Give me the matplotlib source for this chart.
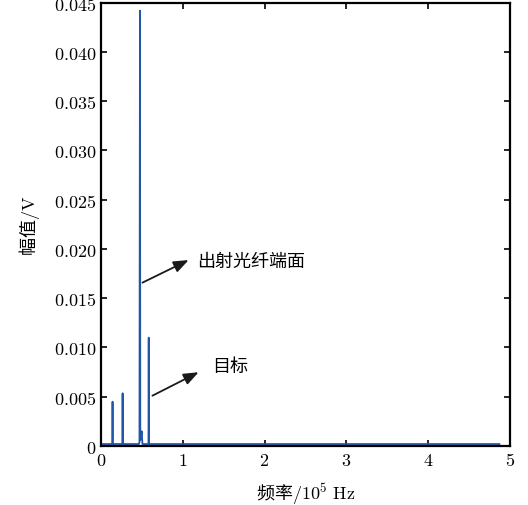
import matplotlib
matplotlib.use("Agg")
from matplotlib import pyplot as plt
from matplotlib.ticker import FuncFormatter

plt.rcParams['font.family'] = ['Noto Sans CJK SC', 'DejaVu Sans']
plt.rcParams['mathtext.fontset'] = 'cm'

# spectrum (frequency in 1e5 Hz, amplitude in V)
freq = [0.0, 0.003, 0.006, 0.140, 0.143, 0.146, 0.263, 0.266, 0.269,
        0.465, 0.472, 0.478, 0.482, 0.490, 0.499, 0.508, 0.582, 0.585,
        0.588, 1.8, 2.0, 4.87]
amp = [0.0006, 0.0002, 0.0002, 0.0002, 0.0045, 0.0002, 0.0002, 0.00535, 0.0002,
       0.0002, 0.0004, 0.0442, 0.0006, 0.0009, 0.0015, 0.0002, 0.0002, 0.0110,
       0.0002, 0.0002, 0.0002, 0.0002]

xticks = [0, 1, 2, 3, 4, 5]
yticks = [0, 0.005, 0.010, 0.015, 0.020, 0.025, 0.030, 0.035, 0.040, 0.045]

fig = plt.figure(figsize=(5.28, 5.06), dpi=100)
ax = fig.add_axes([0.191, 0.1166, 0.775, 0.876])
ax.plot(freq, amp, color='#2155a8', lw=1.3)

ax.set_xlim(0, 5)
ax.set_ylim(0, 0.045)
ax.set_xticks(xticks)
ax.set_yticks(yticks)
ax.xaxis.set_major_formatter(FuncFormatter(lambda v, p: '$%d$' % v))
ax.yaxis.set_major_formatter(FuncFormatter(lambda v, p: '$0$' if v == 0 else '$%.3f$' % v))
ax.tick_params(direction='in', top=True, right=True, labelsize=13, width=1.2, length=4)
for s in ax.spines.values():
    s.set_linewidth(1.6)

ax.set_xlabel('频率$/10^5\\ \\mathrm{Hz}$', fontsize=13, labelpad=8)
ax.set_ylabel('幅值$/\\mathrm{V}$', fontsize=13, labelpad=8)

# annotations
ax.annotate('', xy=(1.103, 0.0190), xytext=(0.478, 0.01646),
            arrowprops=dict(arrowstyle='-|>,head_length=0.9,head_width=0.35', color='#1a1a1a', lw=1.3))
ax.text(1.182, 0.0188, '出射光纤端面', fontsize=13, va='center', ha='left')
ax.annotate('', xy=(1.225, 0.00762), xytext=(0.600, 0.00498),
            arrowprops=dict(arrowstyle='-|>,head_length=0.9,head_width=0.35', color='#1a1a1a', lw=1.3))
ax.text(1.36, 0.00813, '目标', fontsize=13, va='center', ha='left')

fig.savefig('out.png', dpi=100)
